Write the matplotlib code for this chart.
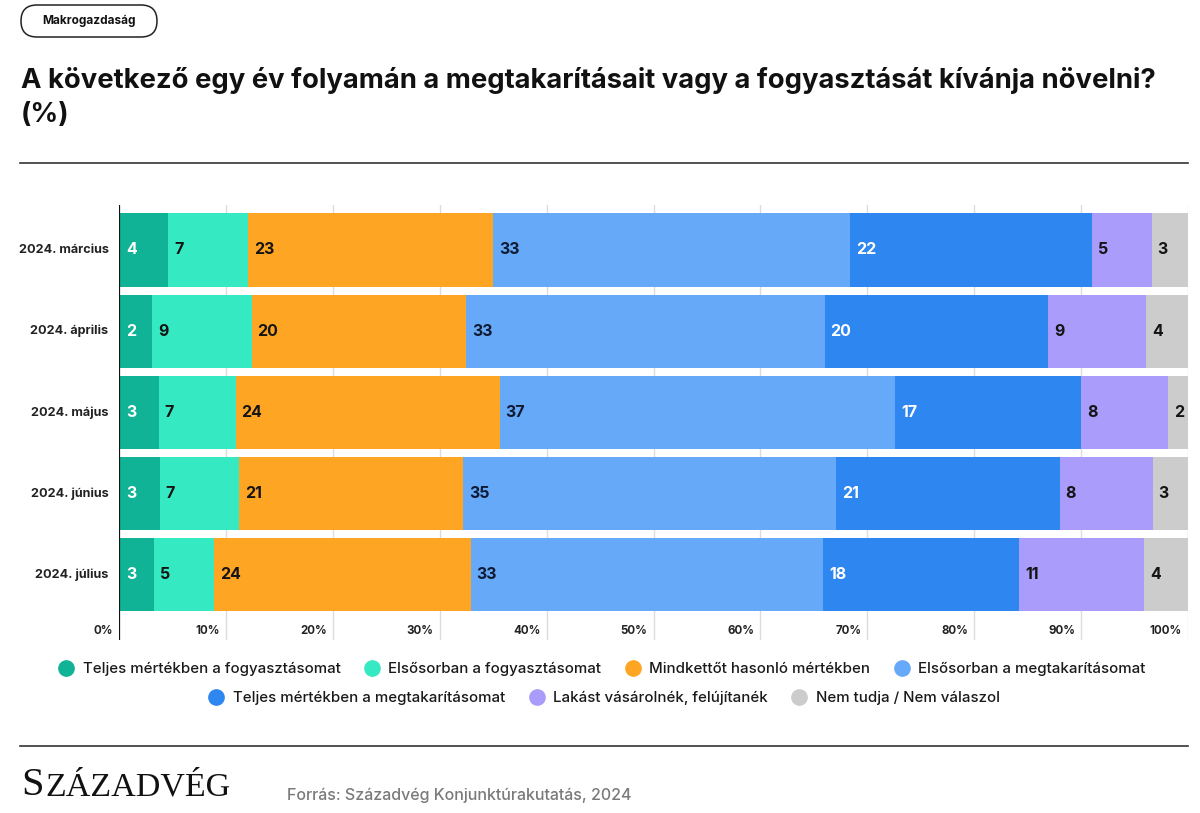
import matplotlib
matplotlib.use("Agg")
import matplotlib.pyplot as plt
from matplotlib.patches import FancyBboxPatch
from matplotlib.lines import Line2D
import matplotlib.transforms as mtransforms

plt.rcParams['font.family'] = ['Inter', 'DejaVu Sans']

W, H = 1200, 813

categories = ["2024. március", "2024. április", "2024. május", "2024. június", "2024. július"]
series_names = [
    "Teljes mértékben a fogyasztásomat",
    "Elsősorban a fogyasztásomat",
    "Mindkettőt hasonló mértékben",
    "Elsősorban a megtakarításomat",
    "Teljes mértékben a megtakarításomat",
    "Lakást vásárolnék, felújítanék",
    "Nem tudja / Nem válaszol",
]
colors = ["#10b396", "#35eac2", "#fea623", "#66a9f8", "#2e86f0", "#a99cfb", "#cccccc"]
label_colors = ["white", "#141414", "#141414", "#0f1a33", "white", "#141414", "#141414"]

# segment widths (share, %)
teljes_fogy = [4.6, 3.1, 3.7, 3.8, 3.3]
elsosorban_fogy = [7.5, 9.3, 7.2, 7.4, 5.6]
mindketto = [22.9, 20.1, 24.7, 21.0, 24.0]
elsosorban_megt = [33.4, 33.5, 37.0, 34.9, 33.0]
teljes_megt = [22.6, 20.9, 17.4, 20.9, 18.3]
lakas = [5.6, 9.2, 8.1, 8.7, 11.7]
nem_tudja = [3.4, 3.9, 1.9, 3.3, 4.1]

# printed value labels
lbl_teljes_fogy = [4, 2, 3, 3, 3]
lbl_elsosorban_fogy = [7, 9, 7, 7, 5]
lbl_mindketto = [23, 20, 24, 21, 24]
lbl_elsosorban_megt = [33, 33, 37, 35, 33]
lbl_teljes_megt = [22, 20, 17, 21, 18]
lbl_lakas = [5, 9, 8, 8, 11]
lbl_nem_tudja = [3, 4, 2, 3, 4]

x_ticks = [0, 10, 20, 30, 40, 50, 60, 70, 80, 90, 100]
x_ticklabels = ["0%", "10%", "20%", "30%", "40%", "50%", "60%", "70%", "80%", "90%", "100%"]

series = [teljes_fogy, elsosorban_fogy, mindketto, elsosorban_megt, teljes_megt, lakas, nem_tudja]
labels = [lbl_teljes_fogy, lbl_elsosorban_fogy, lbl_mindketto, lbl_elsosorban_megt,
          lbl_teljes_megt, lbl_lakas, lbl_nem_tudja]

fig = plt.figure(figsize=(W / 100, H / 100), dpi=100)
fig.patch.set_facecolor("white")

def fx(px):
    return px / W

def fy(py):
    return 1 - py / H

# axes: x 119..1188 px, y 205..640 px
ax = fig.add_axes([fx(119), fy(640), fx(1188) - fx(119), fy(205) - fy(640)])
ypos = list(range(len(categories)))
ax.set_xlim(0, 100)
ax.set_ylim(4.804, -0.554)

for t in x_ticks[1:]:
    ax.axvline(t, color="#dcdcdc", lw=1, zorder=0)

left = [0.0] * len(categories)
for s, vals in enumerate(series):
    ax.barh(ypos, vals, left=left, height=0.9, color=colors[s], zorder=2, linewidth=0)
    for i, v in enumerate(vals):
        ax.annotate(str(labels[s][i]), xy=(left[i], ypos[i]), xytext=(4.3 if s else 5.0, 0),
                    textcoords="offset points", ha="left", va="center",
                    fontsize=11.5, fontweight="bold", color=label_colors[s], zorder=3)
    left = [l + v for l, v in zip(left, vals)]

ax.axvline(0, color="#111111", lw=1.6, zorder=4)

for t, tl in zip(x_ticks, x_ticklabels):
    ax.annotate(tl, xy=(t, 4.693), xytext=(-4.3, 0), textcoords="offset points",
                ha="right", va="center", fontsize=8.3, fontweight="bold", color="#222222")

for i, c in enumerate(categories):
    ax.annotate(c, xy=(0, ypos[i]), xytext=(-7.5, 0), textcoords="offset points",
                ha="right", va="center", fontsize=9.1, fontweight="bold", color="#222222")

ax.set_xticks([])
ax.set_yticks([])
for sp in ax.spines.values():
    sp.set_visible(False)

# header pill
ident = mtransforms.IdentityTransform()
pill = FancyBboxPatch((21, H - 37), 136, 32, boxstyle="round,pad=0,rounding_size=16",
                      transform=ident, fc="white", ec="#222222", lw=1.1)
fig.patches.append(pill)
fig.text(fx(89), fy(21), "Makrogazdaság", ha="center", va="center", fontsize=8.5,
         fontweight="bold", color="#111111")

# title
fig.text(fx(21), fy(80), "A következő egy év folyamán a megtakarításait vagy a fogyasztását kívánja növelni?",
         ha="left", va="center", fontsize=19.75, fontweight="bold", color="#111111")
fig.text(fx(21), fy(115), "(%)", ha="left", va="center", fontsize=19.75, fontweight="bold",
         color="#111111")

# separators
fig.add_artist(Line2D([fx(20), fx(1188)], [fy(163), fy(163)], color="#333333", lw=1.2))
fig.add_artist(Line2D([fx(20), fx(1188)], [fy(746), fy(746)], color="#333333", lw=1.2))

# legend
def handle(c):
    return Line2D([], [], marker="o", linestyle="none", markersize=11,
                  markerfacecolor=c, markeredgecolor=c)

leg_kw = dict(frameon=False, fontsize=10.8, handlelength=0.8, handletextpad=0.69,
              columnspacing=1.7, borderaxespad=0, borderpad=0)
leg1 = fig.legend([handle(colors[i]) for i in range(4)], series_names[:4], ncol=4,
                  loc="center", bbox_to_anchor=(fx(603), fy(669)), **leg_kw)
leg2 = fig.legend([handle(colors[i]) for i in range(4, 7)], series_names[4:], ncol=3,
                  loc="center", bbox_to_anchor=(fx(605), fy(698)), **leg_kw)
for lg in (leg1, leg2):
    for t in lg.get_texts():
        t.set_color("#1a1a1a")
        t.set_fontweight("medium")

# footer
fig.text(fx(21), fy(795), "S", ha="left", va="baseline", fontsize=29,
         family="Liberation Serif", color="#111111")
fig.text(fx(45), fy(795), "ZÁZADVÉG", ha="left", va="baseline", fontsize=24.5,
         family="Liberation Serif", color="#111111")
fig.text(fx(287), fy(795), "Forrás: Századvég Konjunktúrakutatás, 2024", ha="left", va="center",
         fontsize=11.5, color="#7a7a7a", fontweight="medium")

fig.savefig("out.png", dpi=100, facecolor="white")
